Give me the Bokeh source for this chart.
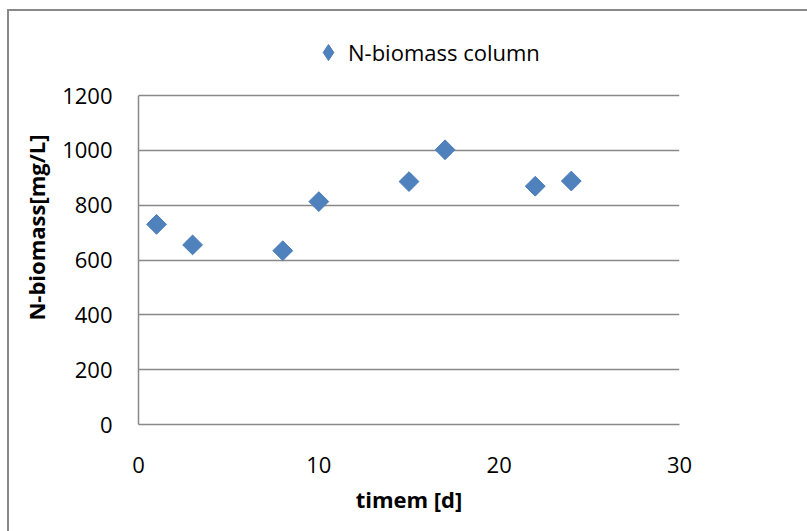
import math

from bokeh.embed import file_html
from bokeh.models import (ColumnDataSource, FixedTicker, Legend, LegendItem,
                          Range1d)
from bokeh.plotting import figure
from bokeh.resources import INLINE

# N-biomass in the column over time
time_d = [1, 3, 8, 10, 15, 17, 22, 24]
n_biomass = [730, 655, 634, 813, 886, 1002, 869, 888]

x_ticks = [0, 10, 20, 30]
y_ticks = [0, 200, 400, 600, 800, 1000, 1200]

series_name = "N-biomass column"
x_title = "timem [d]"
y_title = "N-biomass[mg/L]"

FONT = "Open Sans"
GREY = "#898989"
BLUE = "#4F81BD"
EDGE = "#4A7DBA"

# chart-area border (left and top edges) drawn behind the transparent canvas
border_css = {
    "background-color": "white",
    "background-image": f"linear-gradient({GREY}, {GREY}), linear-gradient({GREY}, {GREY})",
    "background-size": "2px 100%, 100% 2px",
    "background-position": "7px 9px, 7px 9px",
    "background-repeat": "no-repeat",
}

# the plot frame reaches up into the header band so the legend can sit there;
# the axis, ticks and grid stop at the last tick
y_top = y_ticks[-1]
header_px = 65
frame_px = 329
y_end = y_top + header_px * y_top / frame_px

p = figure(
    width=807, height=531,
    output_backend="svg", toolbar_location=None,
    x_range=Range1d(0, 30), y_range=Range1d(0, y_end),
    min_border_left=138, min_border_right=128,
    min_border_top=30, min_border_bottom=107,
    styles=border_css,
)
p.outline_line_color = None
p.background_fill_color = "white"
p.border_fill_color = None

src = ColumnDataSource(dict(x=time_d, y=n_biomass))
pts = p.scatter("x", "y", source=src, marker="square", angle=math.pi / 4,
                size=14, fill_color=BLUE, line_color=EDGE, line_width=1)

# same series with a diamond marker, kept hidden: it only supplies the legend key
key = p.scatter("x", "y", source=src, marker="diamond", fill_color=BLUE,
                line_color=EDGE, line_width=1, visible=False)

# gridlines
p.xgrid.visible = False
p.ygrid.grid_line_color = GREY
p.ygrid.grid_line_width = 1.5
p.ygrid.ticker = FixedTicker(ticks=y_ticks)

# axes
for ax in (p.xaxis[0], p.yaxis[0]):
    ax.axis_line_color = GREY
    ax.axis_line_width = 1.5
    ax.major_tick_line_color = None
    ax.minor_tick_line_color = None
    ax.major_label_text_font = FONT
    ax.major_label_text_font_size = "22px"
    ax.major_label_text_color = "black"
    ax.axis_label_text_font = FONT
    ax.axis_label_text_font_size = "22px"
    ax.axis_label_text_font_style = "bold"
    ax.axis_label_text_color = "black"

p.yaxis.bounds = (0, y_top)
p.xaxis.major_label_standoff = 26
p.yaxis.major_label_standoff = 20
p.xaxis.ticker = FixedTicker(ticks=x_ticks)
p.yaxis.ticker = FixedTicker(ticks=y_ticks)
p.xaxis.axis_label = x_title
p.yaxis.axis_label = y_title
p.xaxis.axis_label_standoff = 8
p.yaxis.axis_label_standoff = 8

# legend in the header band
legend = Legend(
    items=[LegendItem(label=series_name, renderers=[key])],
    location=(170, 352),
    orientation="horizontal",
    padding=0, margin=0, spacing=0,
    glyph_width=40, glyph_height=40, label_standoff=0,
    border_line_color=None, background_fill_alpha=0,
    label_text_font=FONT, label_text_font_size="22px", label_text_color="black",
)
p.add_layout(legend, "center")

open("out.html", "w").write(file_html(p, INLINE))
